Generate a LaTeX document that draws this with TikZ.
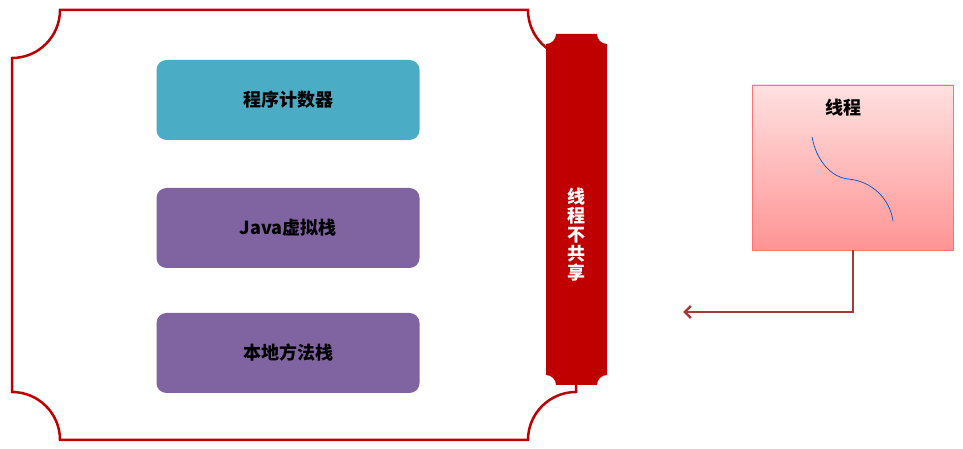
\documentclass[tikz,border=0pt]{standalone}
\usepackage{fontspec}
\usetikzlibrary{arrows.meta}
\newfontfamily\cjk{Noto Sans CJK SC}
\begin{document}
\begin{tikzpicture}[x=1pt,y=1pt,
  box/.style={draw=none,rounded corners=10pt,minimum width=263pt,minimum height=80pt,font=\cjk\bfseries\fontsize{18}{20}\selectfont},
  redc/.style={line width=2.5pt}]
\definecolor{barred}{HTML}{C00000}
\definecolor{teal}{HTML}{4BACC6}
\definecolor{purp}{HTML}{8064A2}
\definecolor{arr}{HTML}{A33A3A}
\useasboundingbox (0,0) rectangle (963,449);
% outer plaque
\draw[redc,draw=barred] (60,439) -- (528,439) arc[start angle=180,end angle=270,radius=48]
  -- (576,57) arc[start angle=90,end angle=180,radius=48]
  -- (60,9) arc[start angle=0,end angle=90,radius=48]
  -- (12,391) arc[start angle=-90,end angle=0,radius=48] -- cycle;
% bar
\fill[barred] (556,415) -- (597,415) arc[start angle=180,end angle=270,radius=10]
  -- (607,74) arc[start angle=90,end angle=180,radius=10]
  -- (556,64) arc[start angle=0,end angle=90,radius=10]
  -- (546,405) arc[start angle=-90,end angle=0,radius=10] -- cycle;
\node[text=white,font=\cjk\bfseries\fontsize{18}{19}\selectfont,align=center] (bar) at (576,214) {线\\程\\不\\共\\享};
\node[box,fill=teal] (pc) at (288,349) {程序计数器};
\node[box,fill=purp] (jvm) at (288,221) {Java虚拟栈};
\node[box,fill=purp] (nat) at (288,96) {本地方法栈};
% thread box
\shade[top color=red!12,bottom color=red!42] (752,199) rectangle (953,364);
\draw[red!55!white,line width=0.6pt] (752,199) rectangle (953,364);
\node[minimum width=201pt,minimum height=165pt] (th) at (852.5,281.5) {};
\node[font=\cjk\bfseries\fontsize{18}{20}\selectfont] (tl) at (843,341) {线程};
\draw[blue!60!cyan!80!black,line width=0.7pt] (812,312) .. controls (816,290) and (830,272) .. (848,270)
  .. controls (872,268) and (890,250) .. (893,228);
\coordinate (tip) at (683,137);
\draw[arr,line width=2.5pt,-{Straight Barb[length=6pt,width=12pt]}] (th.south) ++(0.5,0) |- (tip);
\end{tikzpicture}
\end{document}
